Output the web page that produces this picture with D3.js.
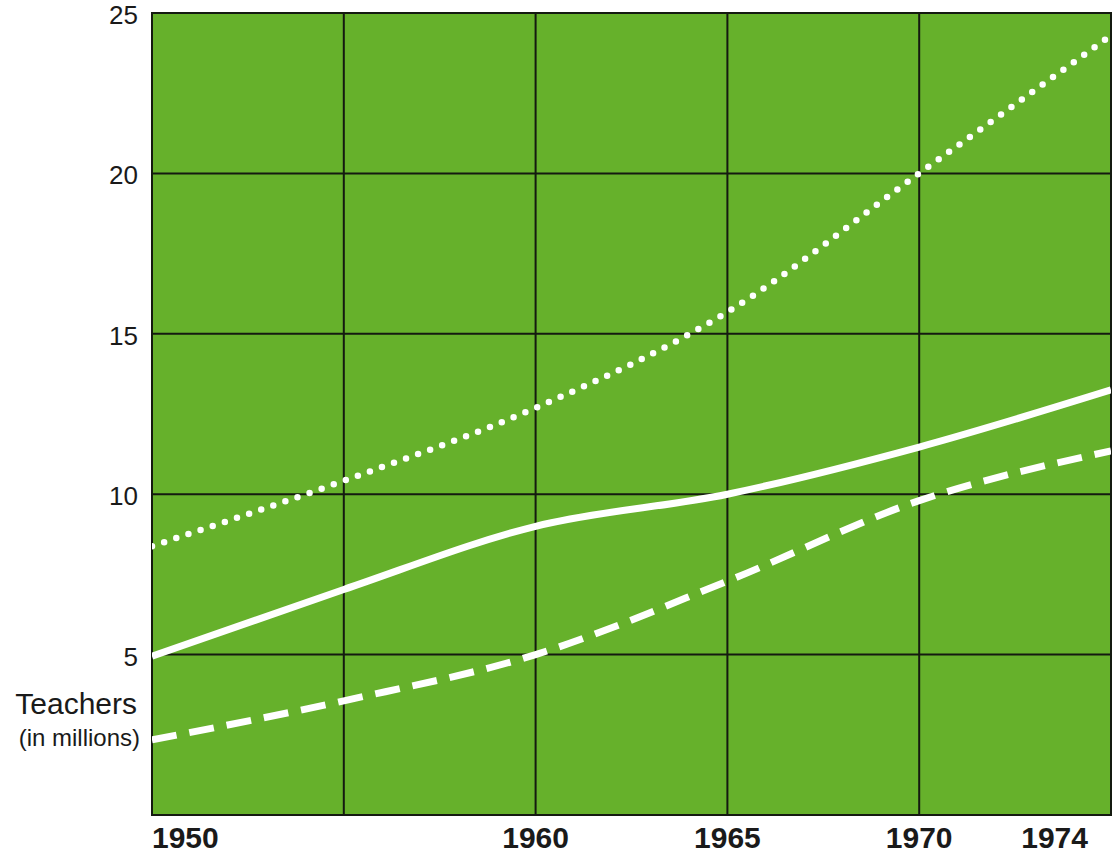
<!DOCTYPE html>
<html>
<head>
<meta charset="utf-8">
<script src="https://cdn.jsdelivr.net/npm/d3@7/dist/d3.min.js"></script>
<style>
  html, body { margin: 0; padding: 0; background: #ffffff; }
  svg { display: block; }
</style>
</head>
<body>
<script>
// Teachers worldwide, in millions, by year
const years = [1950, 1955, 1960, 1965, 1970, 1975];
const seriesSolid  = [4.95, 7.03, 9.0, 10.0, 11.47, 13.25];
const seriesDashed = [2.34, 3.56, 5.0, 7.29, 9.8, 11.35];
const seriesDotted = [8.38, 10.42, 12.69, 15.68, 20.0, 24.3];

const yTicks = [5, 10, 15, 20, 25];
const xGridYears = [1955, 1960, 1965, 1970];
const xTickLabels = [1950, 1960, 1965, 1970, 1974];

const W = 1113, H = 855;
const margin = { left: 152, right: 2, top: 13, bottom: 40 };
const plotW = W - margin.left - margin.right;
const plotH = H - margin.top - margin.bottom;

const svg = d3.select("body").append("svg")
  .attr("width", W).attr("height", H);

const x = d3.scaleLinear().domain([1950, 1975]).range([0, plotW]);
const y = d3.scaleLinear().domain([0, 25]).range([plotH, 0]);

const g = svg.append("g").attr("transform", `translate(${margin.left},${margin.top})`);

// green field
g.append("rect")
  .attr("width", plotW).attr("height", plotH)
  .attr("fill", "#66b12b");

// grid
g.selectAll("line.h").data(yTicks.filter(v => v < 25)).join("line")
  .attr("class", "h")
  .attr("x1", 0).attr("x2", plotW)
  .attr("y1", d => y(d)).attr("y2", d => y(d))
  .attr("stroke", "#141a10").attr("stroke-width", 2);

g.selectAll("line.v").data(xGridYears).join("line")
  .attr("class", "v")
  .attr("x1", d => x(d)).attr("x2", d => x(d))
  .attr("y1", 0).attr("y2", plotH)
  .attr("stroke", "#141a10").attr("stroke-width", 2);

// frame
g.append("rect")
  .attr("width", plotW).attr("height", plotH)
  .attr("fill", "none").attr("stroke", "#141a10").attr("stroke-width", 2);

g.append("clipPath").attr("id", "plotClip")
  .append("rect").attr("width", plotW).attr("height", plotH);

const line = d3.line()
  .x((d, i) => x(years[i]))
  .y(d => y(d))
  .curve(d3.curveMonotoneX);

const lines = g.append("g").attr("clip-path", "url(#plotClip)");

lines.append("path").datum(seriesSolid)
  .attr("d", line).attr("fill", "none")
  .attr("stroke", "#ffffff").attr("stroke-width", 7);

lines.append("path").datum(seriesDashed)
  .attr("d", line).attr("fill", "none")
  .attr("stroke", "#ffffff").attr("stroke-width", 7)
  .attr("stroke-dasharray", "25 13");

lines.append("path").datum(seriesDotted)
  .attr("d", line).attr("fill", "none")
  .attr("stroke", "#ffffff").attr("stroke-width", 6.5)
  .attr("stroke-linecap", "round")
  .attr("stroke-dasharray", "0 12.8");

// y labels
const font = "'Liberation Sans', Arial, Helvetica, sans-serif";
svg.append("g").selectAll("text").data(yTicks).join("text")
  .attr("x", 138)
  .attr("y", d => margin.top + y(d) + 11)
  .attr("text-anchor", "end")
  .attr("font-family", font)
  .attr("font-size", 26)
  .attr("fill", "#1a1a1a")
  .text(d => d);

svg.append("text")
  .attr("x", 137).attr("y", 714)
  .attr("text-anchor", "end")
  .attr("font-family", font).attr("font-size", 30)
  .attr("fill", "#1a1a1a")
  .text("Teachers");

svg.append("text")
  .attr("x", 140).attr("y", 746)
  .attr("text-anchor", "end")
  .attr("font-family", font).attr("font-size", 24)
  .attr("fill", "#1a1a1a")
  .text("(in millions)");

// x labels
svg.append("g").selectAll("text").data(xTickLabels).join("text")
  .attr("x", (d, i) => {
    if (i === 0) return margin.left;
    if (i === xTickLabels.length - 1) return margin.left + plotW - 23;
    return margin.left + x(d);
  })
  .attr("y", 848)
  .attr("text-anchor", (d, i) => i === 0 ? "start" : (i === xTickLabels.length - 1 ? "end" : "middle"))
  .attr("font-family", font)
  .attr("font-weight", "bold")
  .attr("font-size", 30)
  .attr("fill", "#1a1a1a")
  .text(d => d);
</script>
</body>
</html>
